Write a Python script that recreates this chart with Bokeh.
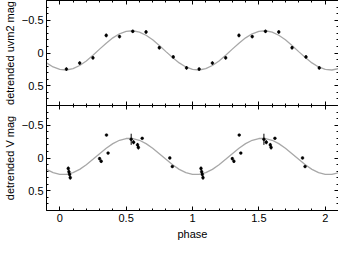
from bokeh.plotting import figure
from bokeh.models import Range1d, LinearAxis, SingleIntervalTicker, CustomJSTickFormatter
from bokeh.layouts import column
from bokeh.embed import file_html
from bokeh.resources import INLINE

# ---- data (one phase cycle; the chart shows it folded twice) ----
uvm2_phase = [0.05, 0.15, 0.25, 0.35, 0.45, 0.55, 0.65, 0.75, 0.855, 0.955]
uvm2_mag = [0.245, 0.153, 0.074, -0.268, -0.25, -0.33, -0.32, -0.08, 0.06, 0.227]
uvm2_err = [0.025, 0.025, 0.025, 0.028, 0.025, 0.025, 0.025, 0.025, 0.025, 0.025]

v_phase = [0.064, 0.069, 0.074, 0.079, 0.300, 0.312, 0.352, 0.364,
           0.538, 0.556, 0.586, 0.592, 0.621, 0.829, 0.848]
v_mag = [0.16, 0.21, 0.25, 0.30, 0.01, 0.05, -0.35, -0.075,
         -0.285, -0.24, -0.20, -0.16, -0.30, 0.00, 0.13]
v_err = [0.03, 0.03, 0.03, 0.03, 0.025, 0.025, 0.015, 0.015,
         0.085, 0.03, 0.03, 0.03, 0.015, 0.015, 0.015]

# model curves read at phase steps of 0.05 over one cycle
curve_phase = [0.00, 0.05, 0.10, 0.15, 0.20, 0.25, 0.30, 0.35, 0.40, 0.45,
               0.50, 0.55, 0.60, 0.65, 0.70, 0.75, 0.80, 0.85, 0.90, 0.95]
uvm2_curve = [0.251, 0.259, 0.239, 0.191, 0.121, 0.035, -0.059, -0.150, -0.231, -0.293,
              -0.331, -0.339, -0.319, -0.271, -0.201, -0.115, -0.021, 0.070, 0.151, 0.213]
v_curve = [0.251, 0.251, 0.224, 0.173, 0.103, 0.020, -0.066, -0.149, -0.219, -0.270,
           -0.297, -0.297, -0.270, -0.219, -0.149, -0.066, 0.020, 0.103, 0.173, 0.224]

cycles = [-1, 0, 1, 2]
x_axis_title = "phase"
FONT = "Liberation Sans"


def fold(ph, vals, cyc):
    xs, ys = [], []
    for c in cyc:
        for a, b in zip(ph, vals):
            xs.append(a + c)
            ys.append(b)
    return xs, ys


fmt_code = "return (tick < 0 ? '\\u2212' : '') + Math.abs(tick).toString();"


def style_axis(ax, labels, line=True):
    ax.ticker = SingleIntervalTicker(interval=0.5, num_minor_ticks=5)
    ax.major_tick_in = 4
    ax.major_tick_out = 0
    ax.minor_tick_in = 2
    ax.minor_tick_out = 0
    ax.major_tick_line_color = "black"
    ax.minor_tick_line_color = "black"
    ax.axis_line_color = "black" if line else None
    ax.axis_label_text_font = FONT
    ax.axis_label_text_font_style = "normal"
    ax.axis_label_text_font_size = "11px"
    ax.axis_label_text_color = "black"
    ax.major_label_text_font = FONT
    ax.major_label_text_font_size = "11px"
    if labels:
        ax.formatter = CustomJSTickFormatter(code=fmt_code)
        ax.major_label_text_color = "black"
        ax.major_label_standoff = 3
        ax.axis_label_standoff = 3
    else:
        ax.major_label_text_color = None
        ax.major_label_standoff = 0
        ax.axis_label_standoff = 0


def make_panel(ylabel, ph, mag, err, curve, bottom_labels):
    p = figure(frame_width=292, frame_height=105,
               x_range=Range1d(-0.1, 2.1), y_range=Range1d(0.8, -0.8),
               x_axis_location=None, y_axis_location=None,
               output_backend="svg", toolbar_location=None,
               min_border=0, min_border_left=0)
    p.outline_line_color = None
    p.background_fill_color = "white"
    p.border_fill_color = "white"
    p.xgrid.visible = False
    p.ygrid.visible = False

    left = LinearAxis(axis_label=ylabel)
    style_axis(left, True)
    p.add_layout(left, "left")
    right = LinearAxis()
    style_axis(right, False)
    p.add_layout(right, "right")
    top = LinearAxis()
    style_axis(top, False)
    p.add_layout(top, "above")
    if bottom_labels:
        bot = LinearAxis(axis_label=x_axis_title)
        style_axis(bot, True)
    else:
        bot = LinearAxis()
        style_axis(bot, False, line=False)
    p.add_layout(bot, "below")

    cx, cy = fold(curve_phase, curve, cycles)
    p.line(cx, cy, line_color="#a8a8a8", line_width=1.3)

    xs, ys = fold(ph, mag, [0, 1])
    _, es = fold(ph, err, [0, 1])
    p.segment(x0=xs, y0=[y - e for y, e in zip(ys, es)],
              x1=xs, y1=[y + e for y, e in zip(ys, es)],
              line_color="black", line_width=1)
    p.scatter(xs, ys, marker="circle", size=2.8, fill_color="black",
              line_color="black", line_width=0.5)
    return p


p1 = make_panel("detrended uvm2 mag", uvm2_phase, uvm2_mag, uvm2_err, uvm2_curve, False)
p2 = make_panel("detrended V mag", v_phase, v_mag, v_err, v_curve, True)

layout = column(p1, p2, spacing=0)
open("out.html", "w").write(file_html(layout, INLINE))
